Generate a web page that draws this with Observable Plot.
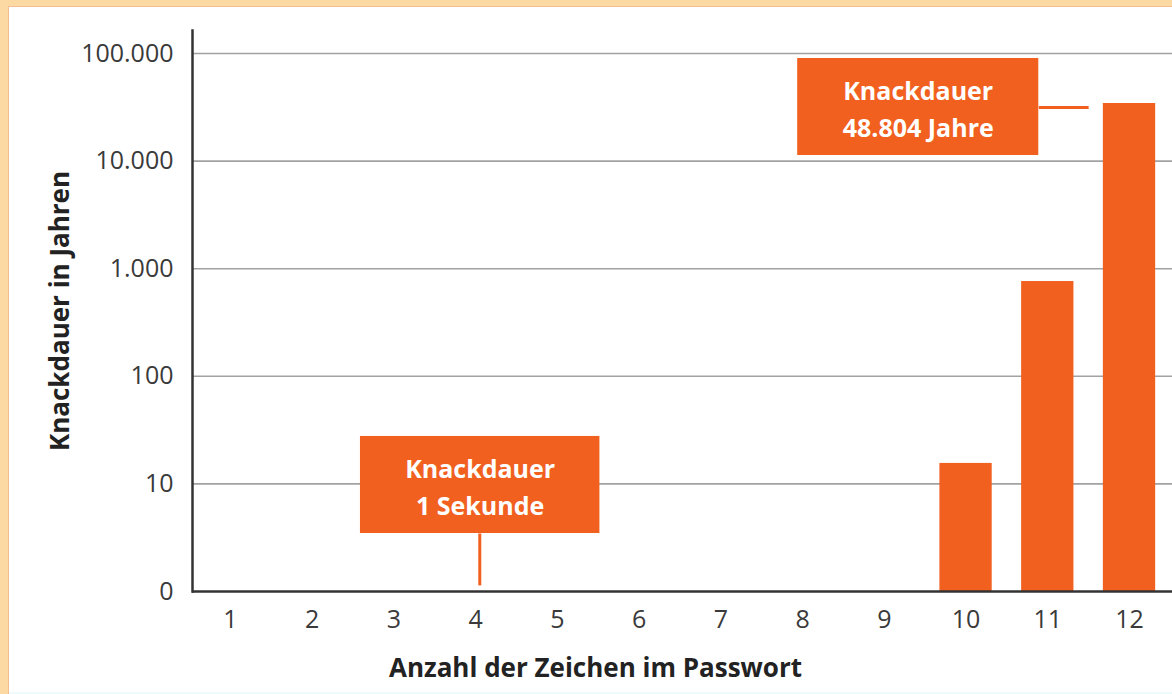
<!DOCTYPE html>
<html>
<head>
<meta charset="utf-8">
<script src="https://cdn.jsdelivr.net/npm/d3@7"></script>
<script src="https://cdn.jsdelivr.net/npm/@observablehq/plot@0.6"></script>
<style>
  html, body { margin: 0; padding: 0; }
  body { width: 1172px; height: 694px; background: #fcd9a2; position: relative; overflow: hidden; }
  #panel { position: absolute; left: 8px; top: 6px; right: 0; bottom: 0; background: #ffffff; border-left: 1px solid #f3bf92; border-top: 1px solid #f3bf92; }
  #strip { position: absolute; left: 9px; right: 0; bottom: 0; height: 2px; background: #eefafc; }
  #chart { position: absolute; left: 0; top: 0; }
  #chart svg { overflow: visible; background: transparent; }
</style>
</head>
<body>
<div id="panel"></div>
<div id="strip"></div>
<div id="chart"></div>
<script>
// ---- data ----
const passwordLength = [1, 2, 3, 4, 5, 6, 7, 8, 9, 10, 11, 12];
const crackYears = [null, null, null, null, null, null, null, null, null, 15.5, 760, 34300];
const yTickValues = [1, 10, 100, 1000, 10000, 100000];
const yTickLabels = ["0", "10", "100", "1.000", "10.000", "100.000"];
const annotationLabels = ["Knackdauer\n48.804 Jahre", "Knackdauer\n1 Sekunde"];
const xTitle = "Anzahl der Zeichen im Passwort";
const yTitle = "Knackdauer in Jahren";

// ---- derived tables ----
const bars = passwordLength
  .map((n, i) => ({n, years: crackYears[i]}))
  .filter(d => d.years != null);

// annotation boxes (in data units) and their connector lines
const notes = [
  {text: annotationLabels[0], x1: 7.94, x2: 10.89, y1: 11270, y2: 89850,
   lx1: 10.89, lx2: 11.50, ly1: 31480, ly2: 31480},
  {text: annotationLabels[1], x1: 2.59, x2: 5.52, y1: 3.46, y2: 27.6,
   lx1: 4.05, lx2: 4.05, ly1: 1.14, ly2: 3.46}
];

const orange = "#f1601f";
const font = "'Open Sans', 'Noto Sans', sans-serif";
const halfBar = 0.32;

const chart = Plot.plot({
  width: 1172,
  height: 694,
  marginLeft: 192,
  marginRight: 0,
  marginTop: 30,
  marginBottom: 103,
  style: {fontFamily: font, fontSize: "24px", background: "transparent", color: "#3a3a3a"},
  x: {type: "linear", domain: [0.535, 12.526]},
  y: {type: "log", domain: [1, 163600]},
  marks: [
    Plot.ruleY(yTickValues.slice(1), {stroke: "#a2a2a2", strokeWidth: 1.6}),
    Plot.rect(bars, {
      x1: d => d.n - halfBar,
      x2: d => d.n + halfBar,
      y1: () => 1,
      y2: "years",
      fill: orange
    }),
    Plot.link(notes, {x1: "lx1", x2: "lx2", y1: "ly1", y2: "ly2", stroke: orange, strokeWidth: 3}),
    Plot.rect(notes, {x1: "x1", x2: "x2", y1: "y1", y2: "y2", fill: orange}),
    Plot.text(notes, {
      x: d => (d.x1 + d.x2) / 2,
      y: d => Math.sqrt(d.y1 * d.y2),
      text: "text",
      fill: "#ffffff",
      fontWeight: "bold",
      fontSize: 25,
      lineHeight: 1.48,
      textAnchor: "middle",
      lineAnchor: "middle"
    }),
    Plot.frame({anchor: "left", stroke: "#333333", strokeWidth: 2.5}),
    Plot.ruleY([1], {stroke: "#333333", strokeWidth: 2.5}),
    Plot.axisY({
      ticks: yTickValues,
      tickFormat: d => yTickLabels[yTickValues.indexOf(d)],
      tickSize: 0,
      tickPadding: 19,
      label: null,
      fontSize: 25,
      color: "#3a3a3a"
    }),
    Plot.axisX({
      ticks: passwordLength,
      tickFormat: d => String(d),
      tickSize: 0,
      tickPadding: 19,
      label: null,
      fontSize: 25,
      color: "#3a3a3a"
    }),
    Plot.text([xTitle], {
      frameAnchor: "bottom",
      dx: -87,
      dy: 77,
      text: d => d,
      textAnchor: "middle",
      lineAnchor: "middle",
      fontWeight: "bold",
      fontSize: 26,
      fill: "#222222"
    }),
    Plot.text([yTitle], {
      frameAnchor: "left",
      dx: -132,
      rotate: -90,
      text: d => d,
      textAnchor: "middle",
      lineAnchor: "middle",
      fontWeight: "bold",
      fontSize: 26,
      fill: "#222222"
    })
  ]
});
document.getElementById("chart").appendChild(chart);
</script>
</body>
</html>
